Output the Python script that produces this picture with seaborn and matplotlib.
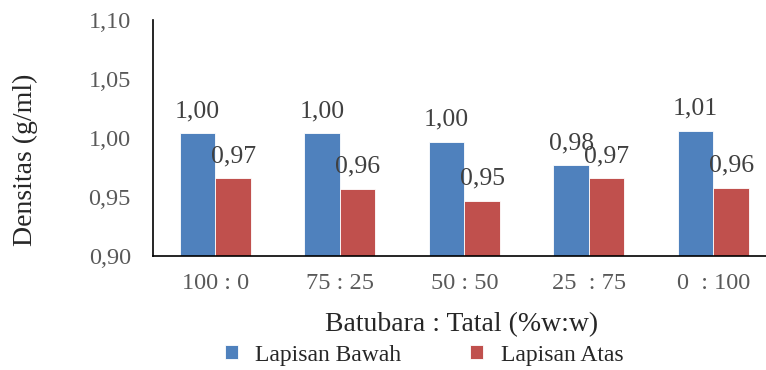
import numpy as np
import pandas as pd
import matplotlib
matplotlib.use("Agg")
import matplotlib.pyplot as plt
import seaborn as sns

# data
ratios = ["100 : 0", "75 : 25", "50 : 50", "25  : 75", "0  : 100"]
lapisan_bawah = [1.004, 1.004, 0.997, 0.977, 1.006]
lapisan_atas = [0.966, 0.957, 0.947, 0.966, 0.958]
series_names = ["Lapisan Bawah", "Lapisan Atas"]
y_ticks = [0.90, 0.95, 1.00, 1.05, 1.10]

df = pd.DataFrame({
    "ratio": ratios * 2,
    "densitas": lapisan_bawah + lapisan_atas,
    "lapisan": [series_names[0]] * len(ratios) + [series_names[1]] * len(ratios),
})

sns.set_style("white")
plt.rcParams["font.family"] = ["Liberation Serif", "DejaVu Serif"]

fig = plt.figure(figsize=(7.66, 3.70), dpi=100)
# axes runs past the right edge, like the cropped reference
ax = fig.add_axes([0.2, 0.308, 0.8127, 0.638])

sns.barplot(
    data=df, x="ratio", y="densitas", hue="lapisan",
    palette=["#4F81BD", "#C0504D"], saturation=1, width=0.57,
    edgecolor="white", linewidth=0.6, ax=ax,
)

ax.set_ylim(0.90, 1.10)
ax.set_yticks(y_ticks)
ax.set_yticklabels([f"{v:.2f}".replace(".", ",") for v in y_ticks])
ax.tick_params(axis="both", length=0, labelsize=17.5, labelcolor="#595959")
ax.tick_params(axis="y", pad=16)
ax.tick_params(axis="x", pad=12)

for side in ["top", "right"]:
    ax.spines[side].set_visible(False)
for side in ["left", "bottom"]:
    ax.spines[side].set_color("black")
    ax.spines[side].set_linewidth(1.2)

for cont in ax.containers:
    ax.bar_label(
        cont, labels=[f"{b.get_height():.2f}".replace(".", ",") for b in cont],
        padding=8, fontsize=18.5, color="#404040",
    )

ax.set_xlabel("")
ax.set_ylabel("")
fig.text(25 / 766, 1 - 160 / 370, "Densitas (g/ml)", rotation=90,
         ha="center", va="center", fontsize=20)
fig.text(462 / 766, 1 - 325 / 370, "Batubara : Tatal (%w:w)",
         ha="center", va="center", fontsize=20)

sns.move_legend(
    ax, "center", bbox_to_anchor=(424 / 766, 1 - 355 / 370),
    bbox_transform=fig.transFigure, ncol=2, frameon=False, title=None,
    fontsize=17, handlelength=0.55, handleheight=0.55, handletextpad=0.75,
    columnspacing=2.9,
)

fig.savefig("out.png", dpi=100)
